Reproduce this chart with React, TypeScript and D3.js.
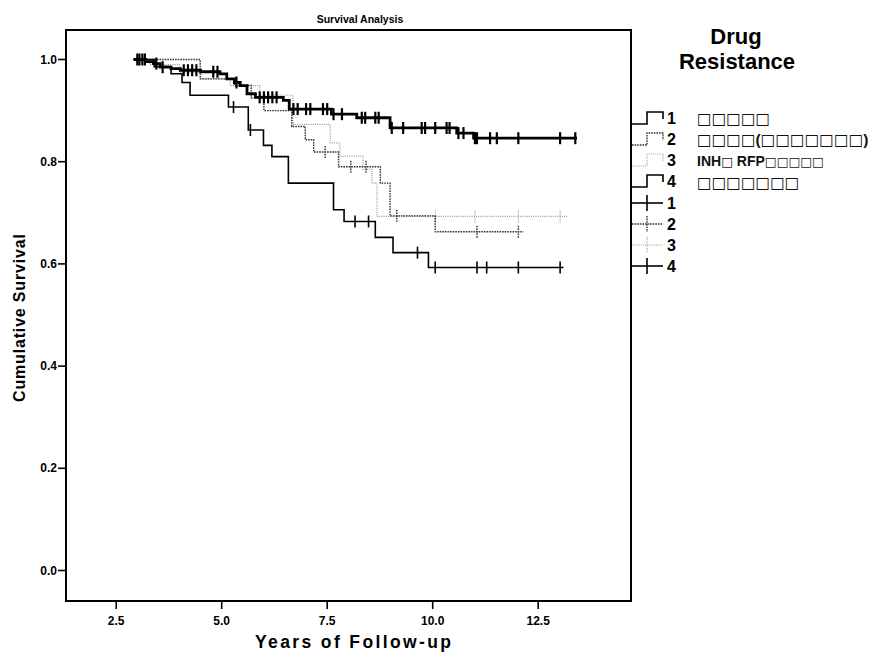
import React from 'react';
import * as d3 from 'd3';

const X_TICKS = [2.5, 5.0, 7.5, 10.0, 12.5];
const Y_TICKS = [0.0, 0.2, 0.4, 0.6, 0.8, 1.0];

// Group 1
const G1_TIMES = [2.91, 3.2, 3.38, 3.54, 3.8, 4.02, 4.5, 4.96, 5.12, 5.3, 5.44, 5.6, 5.8, 6.46, 6.6, 7.6, 8.2, 8.99, 10.57, 10.97];
const G1_SURV = [1.0, 0.996, 0.992, 0.985, 0.982, 0.979, 0.976, 0.972, 0.962, 0.955, 0.949, 0.933, 0.926, 0.92, 0.903, 0.893, 0.886, 0.866, 0.856, 0.846];
const G1_END = 13.42;
const G1_CENSOR = [3.0, 3.05, 3.12, 3.18, 3.45, 3.6, 4.1, 4.2, 4.3, 4.4, 4.8, 4.9, 5.35, 5.9, 6.0, 6.1, 6.2, 6.3, 6.7, 6.8, 7.0, 7.1, 7.4, 7.5, 7.65, 7.85, 8.32, 8.4, 8.64, 8.72, 9.03, 9.3, 9.74, 9.82, 10.06, 10.33, 10.4, 10.61, 10.73, 11.0, 11.05, 11.36, 11.52, 12.03, 13.02, 13.38];

// Group 2
const G2_TIMES = [2.91, 4.49, 5.3, 5.7, 6.0, 6.66, 6.98, 7.18, 7.77, 8.76, 8.99, 10.06];
const G2_SURV = [1.0, 0.962, 0.949, 0.925, 0.9, 0.869, 0.843, 0.819, 0.79, 0.758, 0.694, 0.663];
const G2_END = 12.15;
const G2_CENSOR = [7.45, 8.06, 8.42, 9.15, 11.05, 12.03];

// Group 3
const G3_TIMES = [2.91, 3.3, 4.0, 4.5, 5.2, 5.9, 6.69, 7.57, 7.8, 8.35, 8.56, 8.68];
const G3_SURV = [1.0, 0.99, 0.975, 0.962, 0.949, 0.93, 0.873, 0.837, 0.811, 0.785, 0.758, 0.693];
const G3_END = 13.2;
const G3_CENSOR = [10.06, 11.0, 12.03, 13.02];

// Group 4
const G4_TIMES = [2.91, 3.4, 3.8, 4.06, 4.25, 5.16, 5.63, 5.99, 6.19, 6.58, 7.65, 7.9, 8.64, 9.06, 9.9];
const G4_SURV = [1.0, 0.986, 0.972, 0.955, 0.93, 0.907, 0.862, 0.832, 0.81, 0.758, 0.706, 0.683, 0.652, 0.622, 0.593];
const G4_END = 13.1;
const G4_CENSOR = [5.28, 5.68, 8.16, 8.48, 9.64, 10.06, 11.05, 11.28, 12.03, 13.02];

const LEGEND_NUMS = ['1', '2', '3', '4'];
const LEGEND_LABELS = ['□□□□□', '□□□□(□□□□□□□)', 'INH□ RFP□□□□□', '□□□□□□□'];

const STYLES = [
  { stroke: '#000', width: 2.8, dash: undefined as string | undefined },
  { stroke: '#333', width: 1.4, dash: '1.6,1' },
  { stroke: '#9a9a9a', width: 1.2, dash: '1,1.2' },
  { stroke: '#000', width: 1.6, dash: undefined as string | undefined },
];

const GROUPS = [
  { t: G1_TIMES, s: G1_SURV, end: G1_END, c: G1_CENSOR },
  { t: G2_TIMES, s: G2_SURV, end: G2_END, c: G2_CENSOR },
  { t: G3_TIMES, s: G3_SURV, end: G3_END, c: G3_CENSOR },
  { t: G4_TIMES, s: G4_SURV, end: G4_END, c: G4_CENSOR },
];

const FONT = "'Liberation Sans', Arial, Helvetica, sans-serif";
const NARROW = "'Liberation Sans Narrow', 'Liberation Sans', Arial, sans-serif";
const BOXFONT = "'DejaVu Sans', 'Liberation Sans', sans-serif";

function splitRuns(s: string): { box: boolean; text: string }[] {
  const runs: { box: boolean; text: string }[] = [];
  for (const ch of s) {
    const box = ch === '□';
    if (runs.length && runs[runs.length - 1].box === box) runs[runs.length - 1].text += ch;
    else runs.push({ box, text: ch });
  }
  return runs;
}

export default function App() {
  const left = 66, right = 631, top = 30, bottom = 601;
  const x = d3.scaleLinear().domain([1.31, 14.7]).range([left, right]);
  const y = d3.scaleLinear().domain([0, 1]).range([570.5, 59.5]);

  const line = d3
    .line<[number, number]>()
    .x((d) => x(d[0]))
    .y((d) => y(d[1]))
    .curve(d3.curveStepAfter);

  const survAt = (g: typeof GROUPS[0], t: number) => {
    let v = g.s[0];
    for (let i = 0; i < g.t.length; i++) if (g.t[i] <= t) v = g.s[i];
    return v;
  };

  const drawOrder = [2, 1, 3, 0];

  const legendX0 = 632, legendXM = 647, legendX1 = 663;
  const stepRows = [118, 139, 160, 181];
  const crossRows = [203, 224, 245, 266];
  const labelRows = [124, 145, 166, 188];
  const boxSize = [15.5, 15.5, 12.5, 15.5];
  const letterSize = [14, 15.5, 14, 14];

  return (
    <svg width={890} height={659} style={{ position: 'absolute', left: 0, top: 0, background: '#fff' }}>
      <rect x={0} y={0} width={890} height={659} fill="#fff" />
      {/* Title */}
      <text x={360} y={23} textAnchor="middle" fontFamily={FONT} fontWeight="bold" fontSize={10.5}>
        Survival Analysis
      </text>

      {/* Frame */}
      <rect x={left} y={top} width={right - left} height={bottom - top} fill="none" stroke="#000" strokeWidth={2} />

      {/* Y axis ticks */}
      {Y_TICKS.map((v) => (
        <g key={'y' + v}>
          <line x1={left - 8} x2={left} y1={y(v)} y2={y(v)} stroke="#000" strokeWidth={1.6} />
          <text x={left - 9} y={y(v) + 4} textAnchor="end" fontFamily={NARROW} fontWeight="bold" fontSize={12}>
            {v.toFixed(1)}
          </text>
        </g>
      ))}

      {/* X axis ticks */}
      {X_TICKS.map((v) => (
        <g key={'x' + v}>
          <line x1={x(v)} x2={x(v)} y1={bottom} y2={bottom + 8} stroke="#000" strokeWidth={1.6} />
          <text x={x(v)} y={bottom + 24} textAnchor="middle" fontFamily={NARROW} fontWeight="bold" fontSize={12}>
            {v.toFixed(1)}
          </text>
        </g>
      ))}

      {/* Axis labels */}
      <text x={353} y={648} textAnchor="middle" fontFamily={FONT} fontWeight="bold" fontSize={17.5} textLength={196} lengthAdjust="spacing">
        Years of Follow-up
      </text>
      <text
        transform={`translate(25,318) rotate(-90)`}
        textAnchor="middle"
        fontFamily={FONT}
        fontWeight="bold"
        fontSize={16}
        textLength={168}
        lengthAdjust="spacing"
      >
        Cumulative Survival
      </text>

      {/* Curves */}
      {drawOrder.map((gi) => {
        const g = GROUPS[gi];
        const st = STYLES[gi];
        const pts: [number, number][] = g.t.map((t, i) => [t, g.s[i]] as [number, number]);
        pts.push([g.end, g.s[g.s.length - 1]]);
        return (
          <g key={'g' + gi}>
            <path d={line(pts) || ''} fill="none" stroke={st.stroke} strokeWidth={st.width} strokeDasharray={st.dash} />
            {g.c.map((ct, k) => {
              const v = survAt(g, ct);
              return (
                <line
                  key={k}
                  x1={x(ct)}
                  x2={x(ct)}
                  y1={y(v) - 6}
                  y2={y(v) + 6}
                  stroke={st.stroke}
                  strokeWidth={gi === 0 ? 2.2 : st.width}
                  strokeDasharray={st.dash}
                />
              );
            })}
          </g>
        );
      })}

      {/* Legend */}
      <text x={736} y={44} textAnchor="middle" fontFamily={FONT} fontWeight={600} fontSize={22}>
        Drug
      </text>
      <text x={737} y={69} textAnchor="middle" fontFamily={FONT} fontWeight={600} fontSize={22}>
        Resistance
      </text>
      {LEGEND_NUMS.map((n, i) => {
        const st = STYLES[i];
        const c = stepRows[i];
        return (
          <g key={'ls' + i}>
            <path
              d={`M${legendX0},${c + 6}H${legendXM}V${c - 6}H${legendX1}V${c + 1}`}
              fill="none"
              stroke={st.stroke}
              strokeWidth={Math.min(st.width, 1.6)}
              strokeDasharray={st.dash}
            />
            <text x={667} y={c + 6} fontFamily={NARROW} fontWeight="bold" fontSize={16}>
              {n}
            </text>
          </g>
        );
      })}
      {LEGEND_NUMS.map((n, i) => {
        const st = STYLES[i];
        const c = crossRows[i];
        return (
          <g key={'lc' + i}>
            <line x1={legendX0} x2={legendX1} y1={c} y2={c} stroke={st.stroke} strokeWidth={Math.min(st.width, 1.6)} strokeDasharray={st.dash} />
            <line x1={legendXM} x2={legendXM} y1={c - 8} y2={c + 8} stroke={st.stroke} strokeWidth={Math.min(st.width, 1.6)} strokeDasharray={st.dash} />
            <text x={667} y={c + 6} fontFamily={NARROW} fontWeight="bold" fontSize={16}>
              {n}
            </text>
          </g>
        );
      })}
      <g opacity={0.999}>
        {LEGEND_LABELS.map((lab, i) => (
          <text key={'lab' + i} x={697} y={labelRows[i]} fill="#111">
            {splitRuns(lab).map((r, k) => (
              <tspan
                key={k}
                fontFamily={r.box ? BOXFONT : FONT}
                fontWeight={r.box ? 'normal' : 'bold'}
                fontSize={r.box ? boxSize[i] : letterSize[i]}
              >
                {r.text}
              </tspan>
            ))}
          </text>
        ))}
      </g>
    </svg>
  );
}
